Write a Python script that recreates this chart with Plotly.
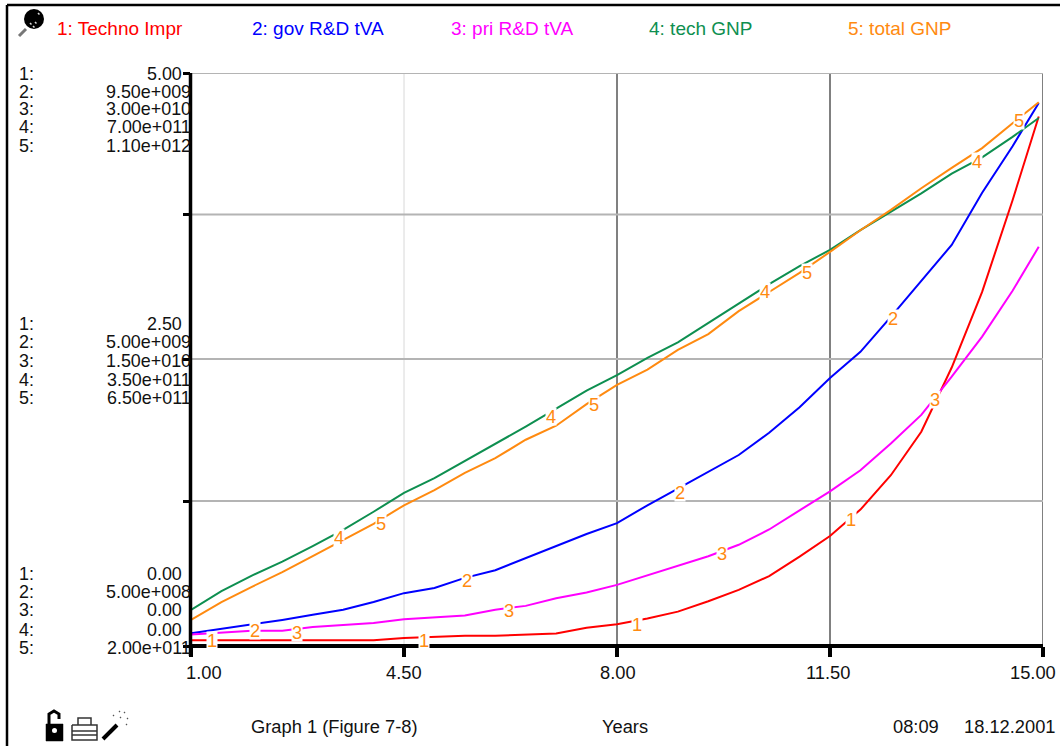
import numpy as np
import plotly.graph_objects as go

W, H = 1060, 746
L, R, T, B = 191, 1043, 73, 646

years = [1, 1.5, 2, 2.5, 3, 3.5, 4, 4.5, 5, 5.5, 6, 6.5, 7, 7.5, 8, 8.5, 9, 9.5, 10,
         10.5, 11, 11.5, 12, 12.5, 13, 13.5, 14, 14.5, 14.93]

techno_impr = [.05, .05, .05, .05, .05, .05, .05, .07, .08, .09, .09, .10, .11, .16, .19, .24, .30,
               .39, .49, .61, .78, .96, 1.19, 1.49, 1.87, 2.43, 3.09, 3.89, 4.62]
# billions
gov_rd_tva = [.70, .77, .83, .91, .99, 1.07, 1.19, 1.33, 1.41, 1.57, 1.69, 1.88, 2.07, 2.26, 2.43, 2.71,
              2.97, 3.23, 3.50, 3.85, 4.25, 4.71, 5.12, 5.67, 6.23, 6.80, 7.62, 8.35, 9.03]
# 1e10
pri_rd_tva = [.06, .07, .08, .08, .10, .11, .12, .14, .15, .16, .19, .21, .25, .28, .32, .37, .42, .47,
              .53, .61, .71, .81, .92, 1.06, 1.21, 1.41, 1.62, 1.86, 2.09]
# 1e11
tech_gnp = [.44, .67, .86, 1.03, 1.22, 1.42, 1.64, 1.87, 2.05, 2.26, 2.46, 2.68, 2.90, 3.12, 3.31, 3.52,
            3.71, 3.95, 4.19, 4.42, 4.64, 4.84, 5.08, 5.30, 5.53, 5.77, 5.97, 6.22, 6.45]
# 1e11
total_gnp = [2.41, 2.69, 2.93, 3.16, 3.41, 3.66, 3.92, 4.21, 4.45, 4.72, 4.95, 5.24, 5.46, 5.80, 6.10, 6.34,
             6.65, 6.90, 7.26, 7.56, 7.86, 8.19, 8.53, 8.85, 9.19, 9.51, 9.82, 10.21, 10.54]

series_names = ["1: Techno Impr", "2: gov R&D tVA", "3: pri R&D tVA", "4: tech GNP", "5: total GNP"]
series_values = [techno_impr, gov_rd_tva, pri_rd_tva, tech_gnp, total_gnp]
series_scale = [1, 1e9, 1e10, 1e11, 1e11]
series_low = [0, 5e8, 0, 0, 2e11]
series_high = [5, 9.5e9, 3e10, 7e11, 1.1e12]
series_colors = ["#FF0000", "#0000FF", "#FF00FF", "#0E8F50", "#FF8A10"]
legend_x = [56, 251, 450, 648, 847]

label_years = [[1.35, 4.83, 8.33, 11.85], [2.05, 5.53, 9.03, 12.54], [2.74, 6.22, 9.73, 13.23],
               [3.43, 6.92, 10.43, 13.91], [4.12, 7.63, 11.12, 14.60]]
label_drop = [[0, 3, 4, 2], [6, 3, 5, 5], [4, 2, 3, 2], [5, 5, 5, 1], [4, 5, 5, 2]]

x_ticks = [1, 4.5, 8, 11.5, 15]
x_tick_text = ["1.00", "4.50", "8.00", "11.50", "15.00"]
x_tick_px = [204, 404, 618, 828, 1033]
x_grid_colors = ["#808080", "#D8D8D8", "#808080", "#808080", "#808080"]
x_grid_widths = [2, 1, 2, 2, 2]
y_grid = [0, 1.265, 2.504, 3.765, 5]
scale_rows = [
    (74, ["5.00", "9.50e+009", "3.00e+010", "7.00e+011", "1.10e+012"], [73.5, 91.5, 109.5, 127.5, 145.5]),
    (324, ["2.50", "5.00e+009", "1.50e+010", "3.50e+011", "6.50e+011"], [323.5, 342.5, 360.5, 379.5, 397.5]),
    (574, ["0.00", "5.00e+008", "0.00", "0.00", "2.00e+011"], [573.5, 591.5, 609.5, 629.5, 647.5]),
]
footer = [("Graph 1 (Figure 7-8)", 334), ("Years", 625), ("08:09", 916), ("18.12.2001", 1010)]

FONT = "Liberation Sans, Arial, sans-serif"
FS = 18.3
px = lambda v: (v - L) / (R - L)
py = lambda v: (B - v) / (B - T)


def path(points, close=True):
    s = "M " + " L ".join(f"{px(a):.5f},{py(b):.5f}" for a, b in points)
    return s + (" Z" if close else "")


fig = go.Figure()
for i, (name, vals, sc, col) in enumerate(zip(series_names, series_values, series_scale, series_colors)):
    fig.add_trace(go.Scatter(x=years, y=[v * sc for v in vals], name=name, mode="lines",
                             line=dict(color=col, width=2), yaxis="y" if i == 0 else f"y{i + 1}",
                             showlegend=False, hoverinfo="name+x+y"))

shapes = []
for xv, c, w in zip(x_ticks, x_grid_colors, x_grid_widths):
    shapes.append(dict(type="line", xref="x", yref="paper", x0=xv, x1=xv, y0=0, y1=1, layer="below",
                       line=dict(color=c, width=w)))
for yv in y_grid[1:]:
    shapes.append(dict(type="line", xref="paper", yref="y", x0=0, x1=1, y0=yv, y1=yv, layer="below",
                       line=dict(color="#B4B4B4", width=2)))
# main axes and frame
black = dict(color="#000000", width=4)
frame = dict(color="#000000", width=2.5)
shapes.append(dict(type="line", xref="paper", yref="paper", x0=0, x1=1, y0=0, y1=0, line=black))
shapes.append(dict(type="line", xref="paper", yref="paper", x0=px(190.5), x1=px(190.5), y0=py(656), y1=1,
                   line=dict(color="#000000", width=3.5)))
shapes.append(dict(type="line", xref="paper", yref="paper", x0=px(7), x1=px(7), y0=py(5), y1=py(746), line=frame))
shapes.append(dict(type="line", xref="paper", yref="paper", x0=px(7), x1=px(1060), y0=py(5), y1=py(5), line=frame))


def fill(points, color="#000000"):
    shapes.append(dict(type="path", xref="paper", yref="paper", path=path(points),
                       fillcolor=color, line=dict(color=color, width=0.5)))


def stroke(points, color="#000000", width=1.5):
    shapes.append(dict(type="path", xref="paper", yref="paper", path=path(points, False),
                       line=dict(color=color, width=width)))


# pin icon
shapes.append(dict(type="circle", xref="paper", yref="paper", x0=px(24), x1=px(44), y0=py(29), y1=py(9),
                   fillcolor="#000000", line=dict(width=0)))
stroke([(26, 29), (19, 36)], "#777777", 3)
for a, b in [(38, 13), (30, 23), (33, 26), (35, 22)]:
    stroke([(a, b), (a + 1.5, b + 1.5)], "#DDDDDD", 1.5)
# lock
fill([(46, 724), (63, 724), (63, 741), (46, 741)])
stroke([(49, 724), (49, 714), (54, 711), (59, 714), (59, 719)], "#000000", 3)
shapes.append(dict(type="circle", xref="paper", yref="paper", x0=px(52), x1=px(57), y0=py(733), y1=py(728),
                   fillcolor="#FFFFFF", line=dict(width=0)))
# printer
stroke([(72, 725), (97, 725), (97, 740), (72, 740), (72, 725)], "#333333", 1.5)
stroke([(78, 725), (78, 718), (91, 718), (91, 725)], "#333333", 1.5)
stroke([(72, 731), (97, 731)], "#333333", 1.5)
stroke([(72, 735), (97, 735)], "#333333", 1.5)
# wand
stroke([(103, 739), (117, 725)], "#000000", 4)
for a, b in [(120, 717), (124, 712), (127, 718), (119, 711), (126, 724), (113, 715)]:
    stroke([(a, b), (a + 1, b + 1)], "#555555", 1.2)

ann = []


def text(s, x, y, color="#111111", anchor="left", size=FS):
    ann.append(dict(text=s, xref="paper", yref="paper", x=px(x), y=py(y), xanchor=anchor, yanchor="middle",
                    showarrow=False, font=dict(family=FONT, size=size, color=color), borderpad=0))


for name, col, x0 in zip(series_names, series_colors, legend_x):
    text(name, x0, 28, col, size=19)
for _, row, ys in scale_rows:
    for n, (s, yy) in enumerate(zip(row, ys), start=1):
        text(f"{n}:", 18, yy, size=17.9)
        text(s, 183 if len(s) == 4 else 192, yy, anchor="right", size=17.9)
for s, x0 in zip(x_tick_text, x_tick_px):
    text(s, x0, 672, anchor="center")
for s, x0 in zip([f[0] for f in footer], [f[1] for f in footer]):
    text(s, x0, 726, anchor="center")

for i, yrs in enumerate(label_years):
    for yr, drop in zip(yrs, label_drop[i]):
        v = float(np.interp(yr, years, series_values[i])) * series_scale[i]
        ann.append(dict(text=str(i + 1), xref="x", yref="y" if i == 0 else f"y{i + 1}", x=yr, y=v, yshift=-drop,
                        xanchor="center", yanchor="middle", showarrow=False, bgcolor="#FFFFFF",
                        width=10, height=17, borderpad=0,
                        font=dict(family=FONT, size=FS, color="#FF8A10")))

layout = dict(
    width=W, height=H, margin=dict(l=L, r=W - R, t=T, b=H - B, pad=0), autosize=False,
    paper_bgcolor="#FFFFFF", plot_bgcolor="#FFFFFF", showlegend=False,
    font=dict(family=FONT, size=FS, color="#111111"),
    xaxis=dict(range=[1, 15], tickvals=x_ticks, ticktext=[""] * 5, ticks="outside", ticklen=10, tickwidth=4,
               tickcolor="#000000", showgrid=False, zeroline=False, showline=False),
    yaxis=dict(range=[series_low[0], series_high[0]], tickvals=y_grid, ticktext=[""] * 5, ticks="outside",
               ticklen=7, tickwidth=3, tickcolor="#000000", showgrid=False, zeroline=False, showline=False),
    shapes=shapes, annotations=ann,
)
for i in range(1, 5):
    layout[f"yaxis{i + 1}"] = dict(range=[series_low[i], series_high[i]], overlaying="y", visible=False)
fig.update_layout(**layout)
fig.write_html("out.html", config={"displayModeBar": False}, post_script="document.body.style.margin='0';")
